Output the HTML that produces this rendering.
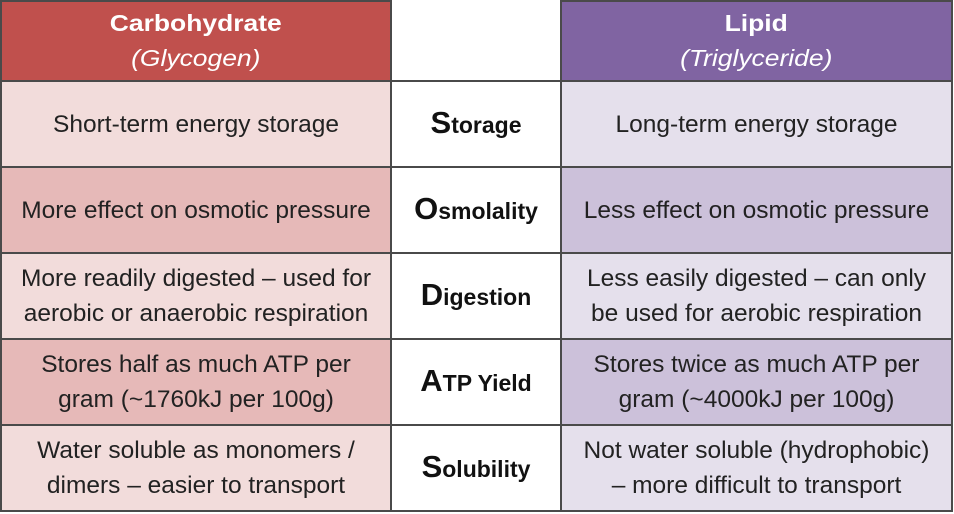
<!DOCTYPE html>
<html><head><meta charset="utf-8"><style>
body{margin:0;width:954px;height:514px;background:#fff;overflow:hidden;font-family:"Liberation Sans",sans-serif;}
table{position:absolute;left:0;top:0;border-collapse:collapse;table-layout:fixed;width:951px;}
td{border:2px solid #4a4a4a;text-align:center;vertical-align:middle;font-size:24.5px;color:#222;line-height:35px;padding:0;white-space:nowrap;}
.h td{height:78px;}
tr.r td{height:84px;}
.hr{background:#c0504d;color:#fff;font-weight:bold;font-size:23px;line-height:35px;}
.hp{background:#8064a2;color:#fff;font-weight:bold;font-size:23px;line-height:35px;}
.hr i,.hp i{font-weight:normal;}
.hr span,.hp span{display:inline-block;transform:scaleX(1.15);}
.mid{font-weight:bold;font-size:23px;color:#111;}
.mid b{font-size:31px;}
.r1{background:#f2dcdb}.r2{background:#e6b9b8}
.p1{background:#e5e0ec}.p2{background:#ccc1da}
</style></head><body>
<table>
<colgroup><col style="width:390px"><col style="width:170px"><col style="width:391px"></colgroup>
<tr class="h"><td class="hr"><span>Carbohydrate<br><i>(Glycogen)</i></span></td><td style="border-top-color:#fff"></td><td class="hp"><span>Lipid<br><i>(Triglyceride)</i></span></td></tr>
<tr class="r"><td class="r1">Short-term energy storage</td><td class="mid"><b>S</b>torage</td><td class="p1">Long-term energy storage</td></tr>
<tr class="r"><td class="r2">More effect on osmotic pressure</td><td class="mid"><b>O</b>smolality</td><td class="p2">Less effect on osmotic pressure</td></tr>
<tr class="r"><td class="r1">More readily digested – used for<br>aerobic or anaerobic respiration</td><td class="mid"><b>D</b>igestion</td><td class="p1">Less easily digested – can only<br>be used for aerobic respiration</td></tr>
<tr class="r"><td class="r2">Stores half as much ATP per<br>gram (~1760kJ per 100g)</td><td class="mid"><b>A</b>TP Yield</td><td class="p2">Stores twice as much ATP per<br>gram (~4000kJ per 100g)</td></tr>
<tr class="r"><td class="r1">Water soluble as monomers /<br>dimers – easier to transport</td><td class="mid"><b>S</b>olubility</td><td class="p1">Not water soluble (hydrophobic)<br>– more difficult to transport</td></tr>
</table>
</body></html>
